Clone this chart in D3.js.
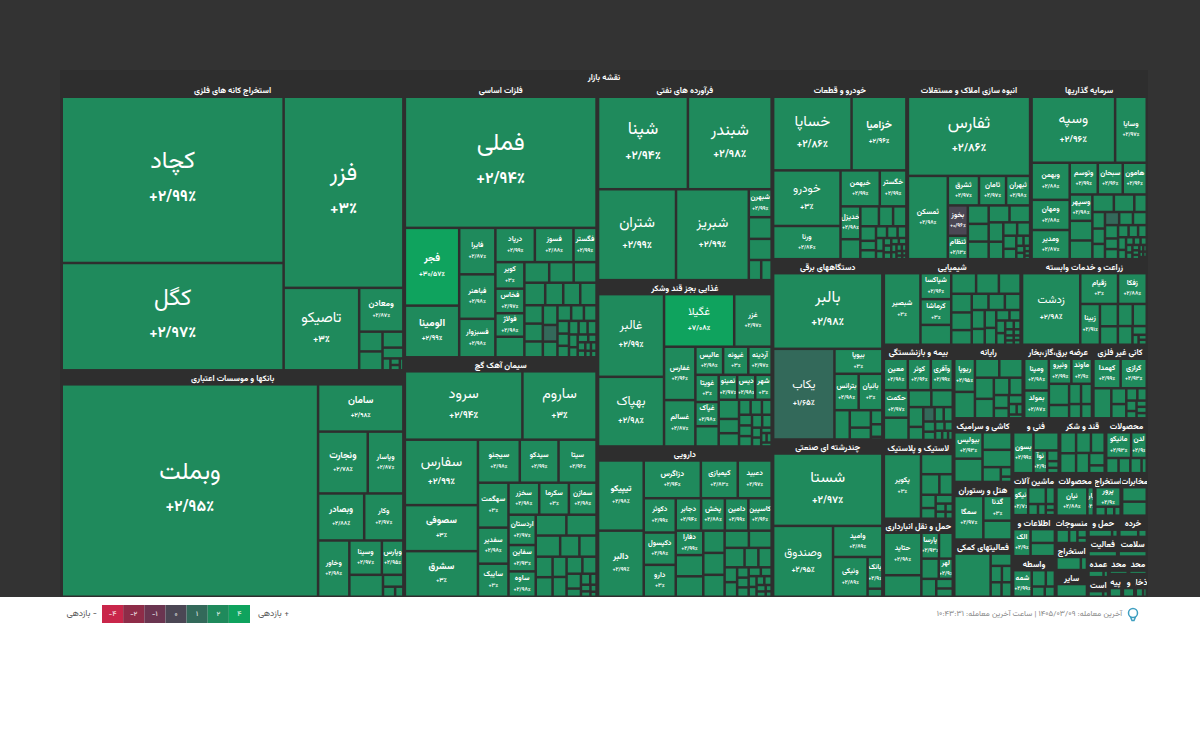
<!DOCTYPE html>
<html lang="fa">
<head>
<meta charset="utf-8">
<script src="https://d3js.org/d3.v7.min.js"></script>
<style>
  html, body { margin: 0; padding: 0; background: #fff; }
  svg { display: block; font-family: "Vazirmatn", "Noto Sans Arabic", "DejaVu Sans", sans-serif; }
</style>
</head>
<body>
<svg width="1200" height="731"></svg>
<script>
// Sectors, biggest first, and their size on the map
const sectors = ["استخراج کانه های فلزی", "بانکها و موسسات اعتباری", "فلزات اساسی", "سیمان آهک گچ", "فرآورده های نفتی", "غذایی بجز قند وشکر", "دارویی", "خودرو و قطعات", "انبوه سازی املاک و مستغلات", "سرمایه گذاریها", "دستگاههای برقی", "چندرشته ای صنعتی", "شیمیایی", "زراعت و خدمات وابسته", "بیمه و بازنشستگی", "لاستیک و پلاستیک", "حمل و نقل انبارداری", "رایانه", "عرضه برق،گاز،بخار", "کانی غیر فلزی", "کاشی و سرامیک", "هتل و رستوران", "فعالیتهای کمکی", "فنی و", "قند و شکر", "محصولات", "ماشین آلات", "اطلاعات و", "واسطه", "محصولات", "استخراج", "مخابرات", "منسوجات", "استخراج", "سایر", "حمل و", "خرده", "فعالیت", "سلامت", "عمده", "است", "محد", "محد", "پیه", "و", "ذخار:"];
const sectorCaps = [97867, 77066, 52608, 45888, 34278, 28884, 26100, 23584, 21648, 20416, 19800, 17270, 11730, 10710, 6650, 5500, 5450, 5100, 5050, 4000, 3717, 3363, 3340, 2560, 2507, 2290, 1800, 1760, 1740, 1640, 1130, 1100, 870, 860, 850, 650, 610, 590, 580, 430, 410, 340, 330, 300, 290, 280];

// Tickers per sector, "" where the cell carries no label
const tickers = [
  ["کچاد", "کگل", "فزر", "تاصیکو", "ومعادن", "", "", "", "", "", "", "", ""],
  ["وبملت", "سامان", "ونجارت", "وپاسار", "وبصادر", "وکار", "وخاور", "وسینا", "وپارس", "", "", "", ""],
  ["فملی", "فجر", "الومینا", "فایرا", "فباهنر", "فسبزوار", "درپاد", "فسوز", "فگستر", "کویر", "فخاس", "فولاژ"],
  ["سرود", "ساروم", "سفارس", "سصوفی", "سشرق", "سیجنو", "سیدکو", "سیتا", "سهگمت", "سفدیر", "سایبک", "سخزر", "سکرما", "سمازن", "اردستان", "سفاین", "ساوه"],
  ["شپنا", "شبندر", "شتران", "شبریز", "شبهرن"],
  ["غالبر", "بهپاک", "غگیلا", "غزر", "غفارس", "غسالم", "عالیس", "غپونه", "آردینه", "غویتا", "غپآک", "", "نمینو", "دیس", "شهر"],
  ["تیپیکو", "دالبر", "دزاگرس", "کیمیازی", "دعبید", "دکوثر", "دکپسول", "دارو", "دجابر", "پخش", "دامین", "کاسپین", "دفارا"],
  ["خساپا", "خزامیا", "خودرو", "ورنا", "خبهمن", "خگستر", "خدیزل"],
  ["ثفارس", "ثمسکن", "ثشرق", "ثامان", "ثبهران", "بخوز", "ثنظام"],
  ["وسپه", "وسایا", "وبهمن", "ومهان", "ومدیر", "وتوسم", "سبحان", "هامون", "وسپهر"],
  ["بالبر", "یکاب", "بیوپا", "بترانس", "بانیان"],
  ["شستا", "وصندوق", "وامید", "ونیکی", "بانک"],
  ["شبصیر", "شپاکسا", "کرماشا"],
  ["زدشت", "زقیام", "زفکا", "زبینا"],
  ["معین", "کوثر", "وآفری", "حکمت"],
  ["پکویر"],
  ["حتاید", "", "پارسا", "", "", "لهر"],
  ["ریوپا"],
  ["ومپنا", "بمولد", "ونیرو", "ماوند"],
  ["کهمدا", "کرازی"],
  ["بیولیس"],
  ["سمگا", "گدنا"],
  [],
  ["بسون", "", "نوآ"],
  [],
  ["مانیکو", "لدن"],
  ["نیکو"],
  ["الک"],
  ["شمه"],
  ["نیان", "پارا"],
  ["پرور"],
  [],
  [], [], [], [], [], [], [], [], [], [], [], [], [], []
];

// Returns for the labelled cells, in the order of the tickers above
const returns = [
  [2.99, 2.97, 3, 3, 2.87],
  [2.95, 2.98, 2.78, 2.87, 2.88, 2.97, 2.98, 2.97, 2.95],
  [2.94, 30.57, 2.99, 2.87, 2.98, 2.98, 2.99, 2.88, 2.99, 3, 2.97, 2.98],
  [2.94, 3, 2.99, 3, 3, 2.98, 2.99, 2.96, 3, 2.98, 3, 2.98, 3, 2.98, 2.97, 2.93, 2.98],
  [2.94, 2.98, 2.99, 2.99, 2.99],
  [2.99, 2.98, 7.08, 2.97, 2.96, 2.87, 2.98, 3, 2.97, 3, 2.98, 2.97, 2.98, 3],
  [2.98, 2.99, 2.94, 2.83, 2.97, 2.99, 2.98, 3, 2.94, 2.88, 2.99, 2.96, 2.99],
  [2.86, 2.96, 3, 2.84, 2.99, 2.99, 2.98],
  [2.86, 2.98, 2.97, 2.97, 2.98, 0.96, 2.13],
  [2.96, 2.97, 2.88, 2.88, 2.87, 2.99, 2.96, 2.96, 2.98],
  [2.98, 1.65, 3, 2.98, 3],
  [2.97, 2.95, 2.89, 2.89, 2.9],
  [3, 2.96, 3],
  [2.98, 3, 2.88, 2.91],
  [2.98, 2.96, 2.99, 2.97],
  [3],
  [2.98, 2.93, 2.9],
  [2.95],
  [2.98, 2.87, 2.99, 2.9],
  [2.99, 2.93],
  [2.93],
  [2.97, 3],
  [],
  [2.99, 2.9],
  [],
  [2.93, 2.9],
  [2.7],
  [2.9],
  [2.99],
  [2.88, 2],
  [2.9],
  [],
  [], [], [], [], [], [], [], [], [], [], [], [], [], []
];

// Cell sizes per sector
const cellSizes = [
  [36880, 23811, 22884, 6229, 1936, 462, 441, 333, 225, 94, 62, 50, 42],
  [53108, 3936, 2995, 2148, 2116, 1797, 1717, 1089, 720, 720, 236, 119, 81],
  [24670, 4146, 2755, 1651, 1580, 1367, 1328, 1300, 776, 755, 698, 670, 584, 502, 495, 461, 462, 398, 376, 333, 361, 324, 287, 283, 239, 225, 194, 144, 130, 120, 210, 196, 138, 128, 120, 109, 86, 81, 64, 47, 47, 62, 50, 36, 36],
  [7864, 4961, 4676, 3290, 3260, 1760, 1630, 1600, 1342, 1077, 988, 961, 929, 866, 808, 702, 676, 625, 615, 505, 398, 355, 338, 322, 277, 263, 271, 236, 209, 115, 100, 68, 62, 42, 50, 30],
  [8098, 7549, 6908, 6451, 623, 482, 470, 244, 205],
  [5321, 4483, 3600, 1920, 1632, 1418, 760, 690, 640, 619, 551, 460, 450, 440, 400, 380, 283, 263, 169, 165, 128, 142, 135, 135, 131, 119, 89, 80, 55, 47, 50, 40],
  [2980, 2806, 2006, 1296, 1189, 1022, 961, 950, 764, 717, 710, 701, 625, 543, 523, 441, 435, 435, 361, 250, 240, 388, 364, 173, 170, 110, 105, 100, 100, 89, 79, 72, 64, 60, 55, 45, 35, 30],
  [5546, 3879, 3600, 2150, 1357, 921, 625, 380, 355, 271, 254, 219, 142, 135, 125, 119, 100, 95, 60, 55, 50, 45, 50, 45, 40, 35, 35, 30, 25, 20, 18, 15],
  [9459, 3253, 900, 782, 693, 595, 458, 376, 361, 359, 345, 341, 277, 250, 181, 169, 167, 132, 71, 65, 56, 50, 30, 25, 20],
  [5192, 1967, 1331, 1083, 1047, 839, 747, 717, 564, 420, 400, 355, 338, 206, 196, 182, 175, 170, 181, 170, 165, 131, 125, 120, 109, 99, 95, 70, 55, 50, 45, 45, 40, 35, 30, 28, 25, 22, 20, 18, 15],
  [8041, 5411, 1164, 858, 840, 437, 358, 244, 157, 140, 30],
  [7227, 3881, 1401, 1256, 428, 109],
  [2467, 752, 745, 575, 482, 441, 420, 361, 341, 283, 256, 250, 240, 231, 194, 194, 183, 131, 110, 106, 98, 71, 56, 49, 40, 30, 40, 35, 30],
  [4096, 1144, 869, 790, 394, 326, 324, 304, 268, 123, 60, 40, 40],
  [693, 664, 634, 623, 505, 355, 333, 269, 178, 150, 120, 120, 110, 90, 80, 70, 60, 50, 40],
  [2419, 646, 379, 277, 196, 157, 152, 80, 70, 60, 50],
  [1519, 769, 435, 340, 335, 270, 254, 152, 130],
  [649, 517, 437, 420, 379, 349, 256, 219, 184, 144, 119, 79, 60, 50],
  [764, 670, 551, 502, 419, 263, 236, 215, 167, 150],
  [752, 723, 505, 223, 200, 128, 109, 100, 70, 60, 60, 50],
  [650, 574, 445, 440, 236, 90, 50],
  [1179, 650, 497],
  [1290, 213, 152, 131, 130, 120],
  [810, 446, 304, 120, 75, 60],
  [315, 300, 290, 268, 250, 182, 115],
  [570, 358, 167, 160, 152, 70],
  [457, 324, 166, 119, 94, 60, 50],
  [395, 281, 270],
  [333, 155, 100, 90, 70],
  [782, 162],
  [516, 98, 80, 60],
  [340, 330],
  [200, 130, 90, 60],
  [240, 60],
  [100],
  [250, 60],
  [200, 90],
  [300],
  [300],
  [200, 60],
  [150, 50],
  [100], [100], [50], [40], [60, 30]
];

// Unlabelled cells that are visibly duller than the rest: sector, cell, return
const dimCells = [[2, 24, 1.7], [9, 16, 1.7], [14, 9, 1.7]];
const defaultReturn = 2.98;

const legendValues = [-4, -2, -1, 0, 1, 2, 4];
const legendColors = ["#c9264a", "#8e2c48", "#6a3550", "#4b4754", "#33695a", "#1f8a5c", "#0fa35e"];
const footerText = "آخرین معامله: ۱۴۰۵/۰۳/۰۹ | ساعت آخرین معامله: ۱۰:۴۳:۳۱";

const svg = d3.select("svg");
const width = 1200;
const mapTop = 70, mapBottom = 597, mapLeft = 60, mapRight = 1148;

const color = d3.scaleThreshold()
    .domain([-2, -1, 0, 1, 2, 4])
    .range(legendColors);

function faDigits(s) {
    return String(s).replace(/\d/g, d => "۰۱۲۳۴۵۶۷۸۹"[+d]);
}
function formatReturn(v) {
    const s = faDigits(String(+v.toFixed(2)).replace(".", "/"));
    return (v >= 0 ? "+" : "-") + s.replace("-", "") + "٪";
}

// Build the tree: leaf sizes are scaled so each sector adds up to its cap
const tree = {
    name: "نقشه بازار",
    children: sectors.map((name, i) => {
        const total = d3.sum(cellSizes[i]);
        let n = 0;
        return {
            name: name,
            children: cellSizes[i].map((s, j) => {
                const ticker = tickers[i][j] || "";
                let ret = ticker ? returns[i][n++] : defaultReturn;
                dimCells.forEach(c => { if (c[0] === i && c[1] === j) ret = c[2]; });
                return { name: ticker, value: s * sectorCaps[i] / total, ret: ret };
            })
        };
    })
};

const root = d3.hierarchy(tree)
    .sum(d => d.value)
    .sort((a, b) => b.value - a.value);

d3.treemap()
    .tile(d3.treemapSquarify.ratio(1.015))
    .size([mapRight - mapLeft, mapBottom - mapTop])
    .paddingTop(14)
    .paddingLeft(1.5)
    .paddingRight(d => d.depth === 0 ? 1 : 1.5)
    .paddingBottom(d => d.depth === 0 ? 0 : 1.5)
    .paddingInner(d => d.depth === 0 ? 1 : 2.5)(root);

// Background
svg.append("rect").attr("width", width).attr("height", mapBottom).attr("fill", "#333333");
const map = svg.append("g").attr("transform", `translate(${mapLeft},${mapTop})`);
map.append("rect").attr("width", mapRight - mapLeft).attr("height", mapBottom - mapTop).attr("fill", "#2e2e2e");

map.append("text")
    .attr("x", (mapRight - mapLeft) / 2).attr("y", 7.5)
    .attr("text-anchor", "middle").attr("dominant-baseline", "central")
    .attr("fill", "#fff").attr("font-size", 8.3).attr("font-weight", "bold")
    .text(root.data.name);

// Sector titles
const groups = map.selectAll("g.sector")
    .data(root.children)
    .join("g")
    .attr("class", "sector");

groups.append("clipPath")
    .attr("id", (d, i) => "sc" + i)
    .append("rect")
    .attr("x", d => d.x0).attr("y", d => d.y0)
    .attr("width", d => d.x1 - d.x0).attr("height", d => d.y1 - d.y0);

groups.append("text")
    .attr("clip-path", (d, i) => `url(#sc${i})`)
    .attr("x", d => (d.x0 + d.x1) / 2).attr("y", d => d.y0 + 6.8)
    .attr("text-anchor", "middle").attr("dominant-baseline", "central")
    .attr("fill", "#fff").attr("font-size", 8.3).attr("font-weight", "bold")
    .text(d => d.data.name);

// Cells
const cells = map.selectAll("g.cell")
    .data(root.leaves())
    .join("g")
    .attr("class", "cell");

cells.append("rect")
    .attr("x", d => d.x0).attr("y", d => d.y0)
    .attr("width", d => Math.max(0, d.x1 - d.x0)).attr("height", d => Math.max(0, d.y1 - d.y0))
    .attr("fill", d => color(d.data.ret));

const labelled = cells.filter(d => d.data.name);
labelled.append("clipPath")
    .attr("id", (d, i) => "cc" + i)
    .append("rect")
    .attr("x", d => d.x0).attr("y", d => d.y0)
    .attr("width", d => d.x1 - d.x0).attr("height", d => d.y1 - d.y0);

function fontSize(d) {
    const s = Math.min((d.x1 - d.x0) * 0.2, (d.y1 - d.y0) * 0.22);
    return Math.max(7.2, Math.min(24, s));
}

labelled.append("text")
    .attr("clip-path", (d, i) => `url(#cc${i})`)
    .attr("x", d => (d.x0 + d.x1) / 2)
    .attr("y", d => (d.y0 + d.y1) / 2 - fontSize(d) * 0.75)
    .attr("text-anchor", "middle").attr("dominant-baseline", "central")
    .attr("fill", "#fff")
    .attr("font-weight", d => fontSize(d) < 11 ? "bold" : "normal")
    .attr("font-size", fontSize)
    .text(d => d.data.name);

labelled.append("text")
    .attr("clip-path", (d, i) => `url(#cc${i})`)
    .attr("x", d => (d.x0 + d.x1) / 2)
    .attr("y", d => (d.y0 + d.y1) / 2 + fontSize(d) * 0.72)
    .attr("text-anchor", "middle").attr("dominant-baseline", "central")
    .attr("direction", "ltr")
    .attr("fill", "#fff").attr("font-weight", "bold")
    .attr("font-size", d => Math.max(5.5, fontSize(d) * 0.66))
    .text(d => formatReturn(d.data.ret));

// Legend
const legendX = d3.scaleBand().domain(legendValues).range([102, 250]);
const legend = svg.append("g");
legend.selectAll("rect")
    .data(legendValues)
    .join("rect")
    .attr("x", d => legendX(d)).attr("y", 605)
    .attr("width", legendX.bandwidth()).attr("height", 18)
    .attr("fill", d => color(d));
legend.selectAll("text.tick")
    .data(legendValues)
    .join("text")
    .attr("class", "tick")
    .attr("x", d => legendX(d) + legendX.bandwidth() / 2).attr("y", 614)
    .attr("text-anchor", "middle").attr("dominant-baseline", "central")
    .attr("direction", "ltr")
    .attr("fill", "#fff").attr("fill-opacity", 0.75).attr("font-size", 7).attr("font-weight", "bold")
    .text(d => (d < 0 ? "-" : "") + faDigits(Math.abs(d)));

svg.append("text").attr("x", 97).attr("y", 614)
    .attr("text-anchor", "end").attr("dominant-baseline", "central")
    .attr("fill", "#555").attr("font-size", 9)
    .text("بازدهی -");
svg.append("text").attr("x", 289).attr("y", 614)
    .attr("text-anchor", "end").attr("dominant-baseline", "central")
    .attr("fill", "#555").attr("font-size", 9)
    .text("بازدهی +");

// Last trade note and its bulb
svg.append("text").attr("x", 1122).attr("y", 614)
    .attr("text-anchor", "end").attr("dominant-baseline", "central")
    .attr("fill", "#888").attr("font-size", 7.9)
    .text(footerText);
const bulb = svg.append("g").attr("fill", "none").attr("stroke", "#3f9fc0").attr("stroke-width", 1.5);
bulb.append("circle").attr("cx", 1133).attr("cy", 613).attr("r", 4.5);
bulb.append("path").attr("d", "M1130.5 617 L1132 620.5 L1134 620.5 L1135.5 617");
</script>
</body>
</html>
